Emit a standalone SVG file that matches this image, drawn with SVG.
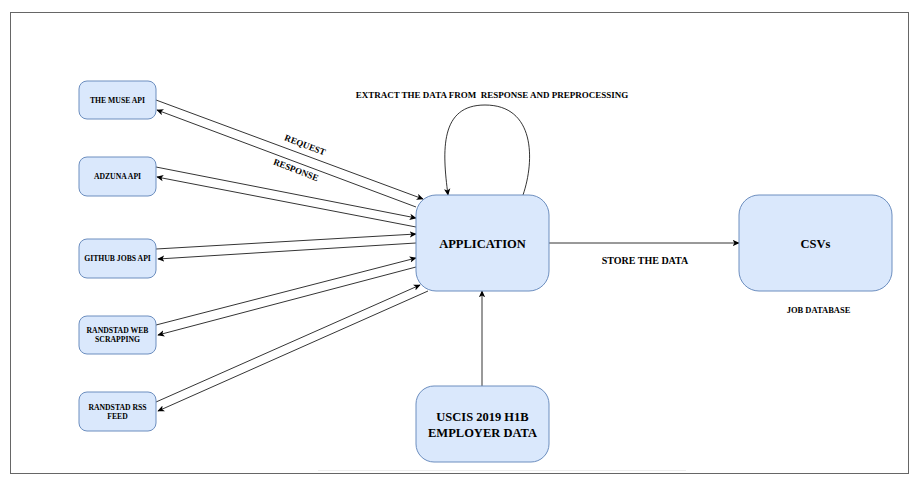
<svg xmlns="http://www.w3.org/2000/svg" width="920" height="483" viewBox="0 0 920 483">
<defs>
<marker id="ah" viewBox="0 0 10 10" refX="9" refY="5" markerWidth="7" markerHeight="7" markerUnits="userSpaceOnUse" orient="auto">
<path d="M0,0.5 L10,5 L0,9.5 L2.5,5 Z" fill="#000"/>
</marker>
<style>
.box{fill:#dae8fc;stroke:#6c8ebf;stroke-width:1}
.t{font-family:"Liberation Serif",serif;font-weight:bold;fill:#000;text-anchor:middle}
.s{font-size:7.7px}
.b{font-size:12.5px}
.c{stroke:#000;stroke-width:0.8;fill:none;marker-end:url(#ah)}
</style>
</defs>
<rect width="920" height="483" fill="#fff"/>
<rect x="10.5" y="12.5" width="898" height="461" fill="none" stroke="#666" stroke-width="1"/>
<line x1="318" y1="470.5" x2="686" y2="470.5" stroke="#eee" stroke-width="1"/>

<g id="connectors">
<line class="c" x1="156" y1="100" x2="423" y2="199"/>
<line class="c" x1="416" y1="207" x2="157" y2="110"/>
<line class="c" x1="156" y1="167" x2="416" y2="218"/>
<line class="c" x1="416" y1="227" x2="157" y2="177"/>
<line class="c" x1="156" y1="249" x2="416" y2="234"/>
<line class="c" x1="416" y1="243" x2="158" y2="259"/>
<line class="c" x1="156" y1="325" x2="416" y2="258"/>
<line class="c" x1="416" y1="267" x2="158" y2="335"/>
<line class="c" x1="156" y1="402" x2="420" y2="285"/>
<line class="c" x1="428" y1="291" x2="158" y2="411"/>
<path class="c" d="M523,195 C535,160 535,105 485,105 C440,105 442,150 448,195"/>
<line class="c" x1="549" y1="243" x2="739" y2="243"/>
<line class="c" x1="482" y1="386" x2="482" y2="291"/>
<text class="t" font-size="9" transform="translate(305,145) rotate(21)" x="0" y="3">REQUEST</text>
<text class="t" font-size="9" transform="translate(296,170) rotate(21)" x="0" y="3">RESPONSE</text>
<text class="t" font-size="9" x="492" y="98" xml:space="preserve" style="white-space:pre">EXTRACT THE DATA FROM  RESPONSE AND PREPROCESSING</text>
<text class="t" font-size="10" x="645" y="263.5">STORE THE DATA</text>
</g>

<g id="muse"><rect class="box" x="79" y="81" width="77" height="38" rx="8"/><text class="t s" x="117.5" y="102.5">THE MUSE API</text></g>
<g id="adzuna"><rect class="box" x="79" y="157" width="77" height="39" rx="8"/><text class="t s" x="117.5" y="179">ADZUNA API</text></g>
<g id="github"><rect class="box" x="79" y="239" width="77" height="39" rx="8"/><text class="t s" x="117.5" y="261">GITHUB JOBS API</text></g>
<g id="randstad-web"><rect class="box" x="79" y="316" width="77" height="38" rx="8"/><text class="t s" x="117.5" y="333">RANDSTAD WEB</text><text class="t s" x="117.5" y="342">SCRAPPING</text></g>
<g id="randstad-rss"><rect class="box" x="79" y="392" width="77" height="39" rx="8"/><text class="t s" x="117.5" y="409.5">RANDSTAD RSS</text><text class="t s" x="117.5" y="418.5">FEED</text></g>

<g id="application"><rect class="box" x="416" y="195" width="133" height="96" rx="20"/><text class="t b" x="482.5" y="247.5">APPLICATION</text></g>
<g id="csvs"><rect class="box" x="739" y="195" width="153" height="96" rx="20"/><text class="t b" x="815.5" y="247.5">CSVs</text><text class="t" font-size="8.5" x="818.5" y="313">JOB DATABASE</text></g>
<g id="uscis"><rect class="box" x="416" y="386" width="133" height="76" rx="18"/><text class="t b" x="482.5" y="421">USCIS 2019 H1B</text><text class="t b" x="482.5" y="437">EMPLOYER DATA</text></g>
</svg>
